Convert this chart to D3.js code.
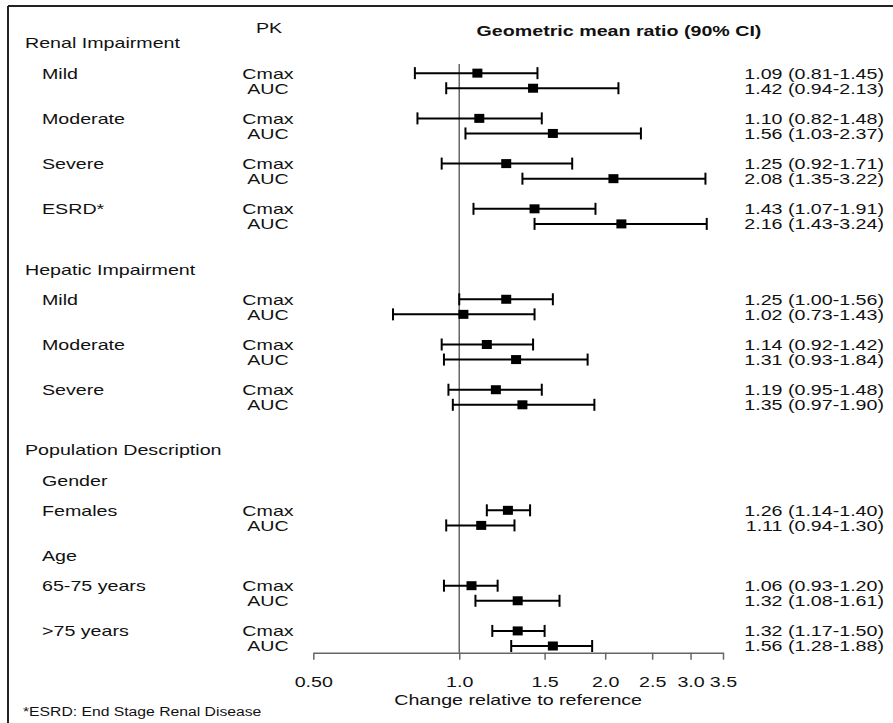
<!DOCTYPE html>
<html>
<head>
<meta charset="utf-8">
<script src="https://cdn.jsdelivr.net/npm/d3@7"></script>
<style>
  body { margin: 0; background: #fff; }
  svg text { font-family: "Liberation Sans", Arial, sans-serif; fill: #111; }
</style>
</head>
<body>
<svg class="visual" width="893" height="723"></svg>
<script>
// Section headings and their row slots
const sections = ["Renal Impairment", "Hepatic Impairment", "Population Description"];
const sectionSlots = [0, 15, 27];

// Sub headings inside population description
const subHeads = ["Gender", "Age"];
const subHeadSlots = [29, 34];

// Groups; Cmax sits on the slot, AUC on the slot below
const groups = ["Mild", "Moderate", "Severe", "ESRD*", "Mild", "Moderate", "Severe", "Females", "65-75 years", ">75 years"];
const groupSlots = [2, 5, 8, 11, 17, 20, 23, 31, 36, 39];

const cmax   = [1.09, 1.10, 1.25, 1.43, 1.25, 1.14, 1.19, 1.26, 1.06, 1.32];
const cmaxLo = [0.81, 0.82, 0.92, 1.07, 1.00, 0.92, 0.95, 1.14, 0.93, 1.17];
const cmaxHi = [1.45, 1.48, 1.71, 1.91, 1.56, 1.42, 1.48, 1.40, 1.20, 1.50];

const auc   = [1.42, 1.56, 2.08, 2.16, 1.02, 1.31, 1.35, 1.11, 1.32, 1.56];
const aucLo = [0.94, 1.03, 1.35, 1.43, 0.73, 0.93, 0.97, 0.94, 1.08, 1.28];
const aucHi = [2.13, 2.37, 3.22, 3.24, 1.43, 1.84, 1.90, 1.30, 1.61, 1.88];

// Axis ticks
const tickValues = [0.5, 1.0, 1.5, 2.0, 2.5, 3.0, 3.5];
const tickLabels = ["0.50", "1.0", "1.5", "2.0", "2.5", "3.0", "3.5"];

// The picture is stretched sideways, so text is too
const stretch = 1.31;

const svg = d3.select(".visual");

const x = d3.scaleLog().domain([0.5, 3.5]).range([313.3, 723]);
const y = d3.scaleLinear().domain([0, 40]).range([43, 646]);
const axisY = 652.7;

// Build one row per estimate
const rows = [];
groups.forEach((g, i) => {
    rows.push({pk: "Cmax", slot: groupSlots[i], est: cmax[i], lo: cmaxLo[i], hi: cmaxHi[i]});
    rows.push({pk: "AUC", slot: groupSlots[i] + 1, est: auc[i], lo: aucLo[i], hi: aucHi[i]});
});

function label(px, py, str, anchor, size, weight) {
    return svg.append("text")
        .attr("transform", `translate(${px},${py}) scale(${stretch},1)`)
        .attr("dy", "0.36em")
        .attr("text-anchor", anchor || "start")
        .style("font-size", (size || 15) + "px")
        .style("font-weight", weight || "normal")
        .text(str);
}

// Frame (top and left edges)
svg.append("line").attr("x1", 8).attr("x2", 893).attr("y1", 6).attr("y2", 6)
    .attr("stroke", "#222").attr("stroke-width", 2);
svg.append("line").attr("x1", 8).attr("x2", 8).attr("y1", 6).attr("y2", 723)
    .attr("stroke", "#222").attr("stroke-width", 2);

// Headers
label(269, 28, "PK", "middle");
label(619, 31, "Geometric mean ratio (90% CI)", "middle", 15, "bold");

sections.forEach((s, i) => label(25, y(sectionSlots[i]), s));
subHeads.forEach((s, i) => label(42, y(subHeadSlots[i]), s));
groups.forEach((g, i) => label(42, y(groupSlots[i]), g));

rows.forEach(r => {
    label(268, y(r.slot), r.pk, "middle");
    label(884, y(r.slot), `${r.est.toFixed(2)} (${r.lo.toFixed(2)}-${r.hi.toFixed(2)})`, "end");
});

// Reference line at 1
svg.append("line")
    .attr("x1", x(1)).attr("x2", x(1))
    .attr("y1", 64).attr("y2", axisY)
    .attr("stroke", "#666").attr("stroke-width", 1.5);

// Axis
const axis = svg.append("g")
    .attr("transform", `translate(0,${axisY})`)
    .call(d3.axisBottom(x)
        .tickValues(tickValues)
        .tickFormat((d, i) => tickLabels[i])
        .tickSize(7)
        .tickSizeOuter(0));
axis.select(".domain").attr("stroke", "#666").attr("stroke-width", 1.5);
axis.selectAll(".tick line").attr("stroke", "#666").attr("stroke-width", 1.5);
axis.selectAll(".tick text")
    .attr("y", 24)
    .attr("transform", `scale(${stretch},1)`)
    .style("font-size", "15px")
    .style("font-family", "'Liberation Sans', Arial, sans-serif")
    .attr("fill", "#111");

label((x.range()[0] + x.range()[1]) / 2, 700, "Change relative to reference", "middle");

// Error bars
const bars = svg.append("g").selectAll("g")
    .data(rows)
    .join("g")
    .attr("transform", d => `translate(0,${y(d.slot)})`);

bars.append("line")
    .attr("x1", d => x(d.lo)).attr("x2", d => x(d.hi))
    .attr("stroke", "#000").attr("stroke-width", 2);
bars.append("line")
    .attr("x1", d => x(d.lo)).attr("x2", d => x(d.lo))
    .attr("y1", -6).attr("y2", 6)
    .attr("stroke", "#000").attr("stroke-width", 2);
bars.append("line")
    .attr("x1", d => x(d.hi)).attr("x2", d => x(d.hi))
    .attr("y1", -6).attr("y2", 6)
    .attr("stroke", "#000").attr("stroke-width", 2);
bars.append("rect")
    .attr("x", d => x(d.est) - 5).attr("y", -4.5)
    .attr("width", 10).attr("height", 9)
    .attr("fill", "#000");

// Footnote
label(23, 712, "*ESRD: End Stage Renal Disease", "start", 12);
</script>
</body>
</html>
